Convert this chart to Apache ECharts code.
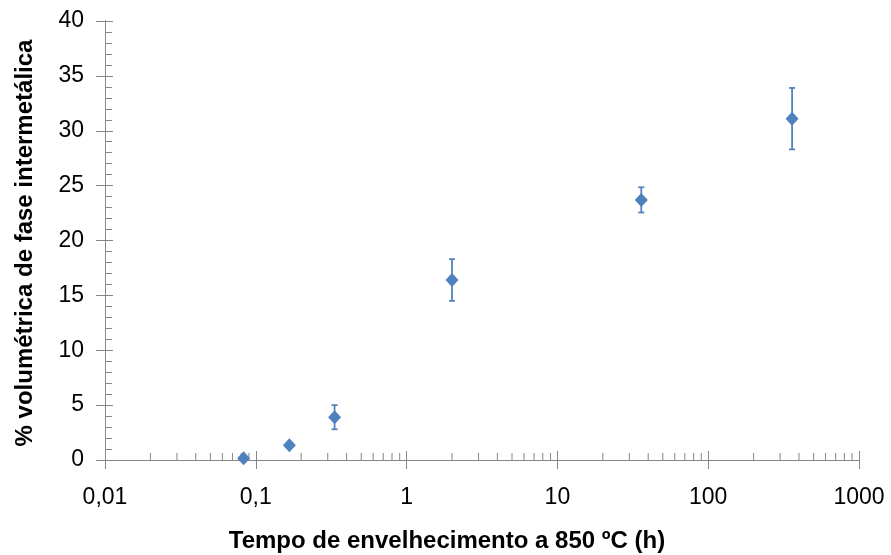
<!DOCTYPE html>
<html>
<head>
<meta charset="utf-8">
<script src="https://cdn.jsdelivr.net/npm/echarts@6/dist/echarts.min.js"></script>
<style>
    html, body { margin: 0; padding: 0; background: #fff; }
    #chart { width: 891px; height: 555px; }
</style>
</head>
<body>
<div id="chart"></div>
<script>
// 数据
var tempoHoras = [0.083, 0.167, 0.333, 2, 36, 360];          // 时效时间 (h)
var fracaoVolumetrica = [0.15, 1.35, 3.9, 16.4, 23.7, 31.1]; // 金属间相体积分数 (%)
var erro = [0, 0, 1.1, 1.9, 1.15, 2.8];                      // 误差棒 ±

// 刻度标签
var xTickLabels = ['0,01', '0,1', '1', '10', '100', '1000'];
var yTickLabels = ['0', '5', '10', '15', '20', '25', '30', '35', '40'];

(function () {
    var cor = '#4F81BD';
    var corEixo = '#868686';
    var fonte = '"Liberation Sans", Arial, sans-serif';

    // 对数轴的次刻度 (2..9 × 10^k)
    var minorX = [];
    for (var k = -2; k <= 2; k++) {
        for (var m = 2; m <= 9; m++) {
            minorX.push([m * Math.pow(10, k), 0]);
        }
    }

    var pontos = tempoHoras.map(function (t, i) { return [t, fracaoVolumetrica[i]]; });
    var barras = tempoHoras.map(function (t, i) {
        return [t, fracaoVolumetrica[i] - erro[i], fracaoVolumetrica[i] + erro[i]];
    });

    var gridPos = { left: 105, right: 32, top: 21, bottom: 95 };

    var option = {
        animation: false,
        backgroundColor: '#fff',
        grid: [
            Object.assign({}, gridPos),
            Object.assign({}, gridPos)
        ],
        xAxis: [
            {
                type: 'log', gridIndex: 0, logBase: 10, min: 0.01, max: 1000,
                axisLine: { lineStyle: { color: corEixo, width: 1 } },
                axisTick: { show: true, length: 9, lineStyle: { color: corEixo } },
                splitLine: { show: false },
                axisLabel: {
                    color: '#000', fontSize: 23, fontFamily: fonte, margin: 26,
                    formatter: function (v) {
                        var idx = Math.round(Math.log10(v)) + 2;
                        return xTickLabels[idx] || '';
                    }
                }
            },
            {
                type: 'log', gridIndex: 1, logBase: 10, min: 0.01, max: 1000,
                axisLine: { lineStyle: { color: corEixo, width: 1 } },
                axisTick: { show: true, inside: true, length: 9, lineStyle: { color: corEixo } },
                splitLine: { show: false },
                axisLabel: { show: false }
            }
        ],
        yAxis: [
            {
                type: 'value', gridIndex: 0, min: 0, max: 40, interval: 5,
                axisLine: { show: true, lineStyle: { color: corEixo, width: 1 } },
                axisTick: { show: true, length: 9, lineStyle: { color: corEixo } },
                splitLine: { show: false },
                axisLabel: {
                    color: '#000', fontSize: 23, fontFamily: fonte, margin: 21,
                    formatter: function (v) { return yTickLabels[Math.round(v / 5)]; }
                }
            },
            {
                type: 'value', gridIndex: 1, min: 0, max: 40, interval: 5,
                axisLine: { show: true, lineStyle: { color: corEixo, width: 1 } },
                axisTick: { show: true, inside: true, length: 8, lineStyle: { color: corEixo } },
                minorTick: { show: true, splitNumber: 5, length: 7, lineStyle: { color: corEixo } },
                splitLine: { show: false },
                axisLabel: { show: false }
            }
        ],
        graphic: [
            {
                type: 'text', x: 447, y: 541,
                style: {
                    text: 'Tempo de envelhecimento a 850 ºC (h)',
                    fill: '#000', font: 'bold 24px ' + fonte,
                    align: 'center', verticalAlign: 'middle'
                }
            },
            {
                type: 'text', x: 25, y: 243, rotation: Math.PI / 2,
                style: {
                    text: '% volumétrica de fase intermetálica',
                    fill: '#000', font: 'bold 24px ' + fonte,
                    align: 'center', verticalAlign: 'middle'
                }
            }
        ],
        series: [
            {
                // x 轴次刻度
                type: 'custom', xAxisIndex: 1, yAxisIndex: 1, clip: false, silent: true,
                data: minorX,
                renderItem: function (params, api) {
                    var p = api.coord([api.value(0), 0]);
                    return {
                        type: 'line',
                        shape: { x1: p[0], y1: p[1], x2: p[0], y2: p[1] - 7 },
                        style: { stroke: corEixo, lineWidth: 1 }
                    };
                }
            },
            {
                // 误差棒
                type: 'custom', xAxisIndex: 0, yAxisIndex: 0, clip: false, z: 3,
                data: barras,
                renderItem: function (params, api) {
                    var x = api.value(0);
                    var lo = api.value(1), hi = api.value(2);
                    if (hi - lo <= 0) return null;
                    var a = api.coord([x, hi]);
                    var b = api.coord([x, lo]);
                    var w = 3;
                    var st = { stroke: cor, lineWidth: 1.75 };
                    return {
                        type: 'group',
                        children: [
                            { type: 'line', shape: { x1: a[0], y1: a[1], x2: b[0], y2: b[1] }, style: st },
                            { type: 'line', shape: { x1: a[0] - w, y1: a[1], x2: a[0] + w, y2: a[1] }, style: st },
                            { type: 'line', shape: { x1: b[0] - w, y1: b[1], x2: b[0] + w, y2: b[1] }, style: st }
                        ]
                    };
                }
            },
            {
                type: 'scatter', xAxisIndex: 0, yAxisIndex: 0, z: 4,
                symbol: 'diamond', symbolSize: [13, 14],
                itemStyle: { color: cor, opacity: 1 },
                data: pontos
            }
        ]
    };

    var myechart = echarts.init(document.getElementById('chart'));
    myechart.setOption(option);
})();
</script>
</body>
</html>
